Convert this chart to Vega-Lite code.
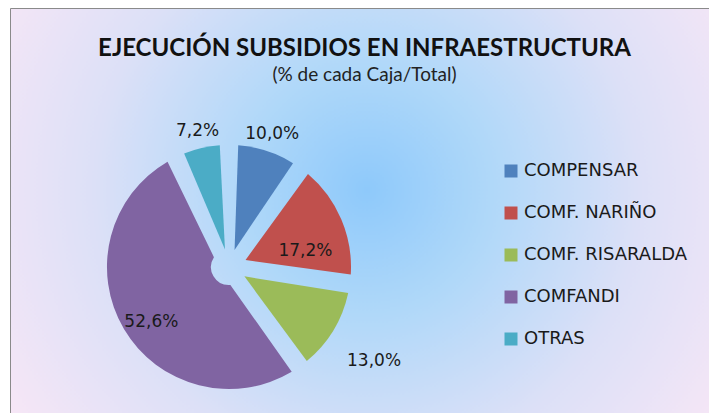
{
  "$schema": "https://vega.github.io/schema/vega-lite/v6.json",
  "autosize": {"type": "none"},
  "width": 699,
  "height": 405,
  "padding": {"left": 10, "top": 8, "right": 0, "bottom": 0},
  "background": "#ffffff",
  "view": {
    "stroke": "#8a8a8a",
    "strokeWidth": 1,
    "fill": {
      "gradient": "radial",
      "x1": 0.51, "y1": 0.47, "x2": 0.51, "y2": 0.47,
      "r1": 0, "r2": 0.6,
      "stops": [
        {"offset": 0, "color": "#8ec9fa"},
        {"offset": 0.3, "color": "#b0d8f9"},
        {"offset": 0.65, "color": "#dce0f7"},
        {"offset": 1, "color": "#f6e6f6"}
      ]
    }
  },
  "title": {
    "text": "EJECUCIÓN SUBSIDIOS EN INFRAESTRUCTURA",
    "subtitle": "(% de cada Caja/Total)",
    "anchor": "middle",
    "dx": 5,
    "offset": -77,
    "font": "Lato",
    "fontSize": 24,
    "fontWeight": "bold",
    "color": "#111111",
    "subtitleFont": "Lato",
    "subtitleFontSize": 19,
    "subtitleColor": "#222222",
    "subtitlePadding": 5
  },
  "data": {
    "values": [
      {"caja": "COMPENSAR", "pct": 10.0, "etiqueta": "10,0%", "orden": 1},
      {"caja": "COMF. NARIÑO", "pct": 17.2, "etiqueta": "17,2%", "orden": 2},
      {"caja": "COMF. RISARALDA", "pct": 13.0, "etiqueta": "13,0%", "orden": 3},
      {"caja": "COMFANDI", "pct": 52.6, "etiqueta": "52,6%", "orden": 4},
      {"caja": "OTRAS", "pct": 7.2, "etiqueta": "7,2%", "orden": 5}
    ]
  },
  "encoding": {
    "theta": {"field": "pct", "type": "quantitative", "stack": true},
    "order": {"field": "orden", "type": "quantitative", "sort": "ascending"},
    "color": {
      "field": "caja",
      "type": "nominal",
      "sort": ["COMPENSAR", "COMF. NARIÑO", "COMF. RISARALDA", "COMFANDI", "OTRAS"],
      "scale": {
        "domain": ["COMPENSAR", "COMF. NARIÑO", "COMF. RISARALDA", "COMFANDI", "OTRAS"],
        "range": ["#4f81bd", "#c0504d", "#9bbb59", "#8064a2", "#4bacc6"]
      },
      "legend": {
        "title": null,
        "orient": "none",
        "legendX": 492,
        "legendY": 154,
        "padding": 0,
        "symbolType": "square",
        "symbolSize": 169,
        "symbolStrokeWidth": 0,
        "symbolOpacity": 1,
        "labelFont": "DejaVu Sans",
        "labelFontSize": 18,
        "labelColor": "#1a1a1a",
        "labelOffset": 4,
        "rowPadding": 24,
        "labelLimit": 250
      }
    }
  },
  "layer": [
    {
      "mark": {"type": "arc", "x": 219, "y": 259, "outerRadius": 122, "innerRadius": 18, "padAngle": 0.15}
    },
    {
      "mark": {"type": "text", "x": 219, "y": 259, "radius": 140, "font": "DejaVu Sans", "fontSize": 17},
      "encoding": {
        "text": {"condition": {"test": "datum.caja === 'COMPENSAR' || datum.caja === 'OTRAS'", "field": "etiqueta"}, "value": ""},
        "color": {"value": "#1a1a1a"}
      }
    },
    {
      "mark": {"type": "text", "x": 219, "y": 259, "radius": 173, "thetaOffset": 0.03, "font": "DejaVu Sans", "fontSize": 17},
      "encoding": {
        "text": {"condition": {"test": "datum.caja === 'COMF. RISARALDA'", "field": "etiqueta"}, "value": ""},
        "color": {"value": "#1a1a1a"}
      }
    },
    {
      "mark": {"type": "text", "x": 219, "y": 259, "radius": 78, "thetaOffset": 0.2, "font": "DejaVu Sans", "fontSize": 17},
      "encoding": {
        "text": {"condition": {"test": "datum.caja === 'COMF. NARIÑO'", "field": "etiqueta"}, "value": ""},
        "color": {"value": "#1a1a1a"}
      }
    },
    {
      "mark": {"type": "text", "x": 219, "y": 259, "radius": 95, "thetaOffset": -0.08, "font": "DejaVu Sans", "fontSize": 17},
      "encoding": {
        "text": {"condition": {"test": "datum.caja === 'COMFANDI'", "field": "etiqueta"}, "value": ""},
        "color": {"value": "#1a1a1a"}
      }
    }
  ]
}
